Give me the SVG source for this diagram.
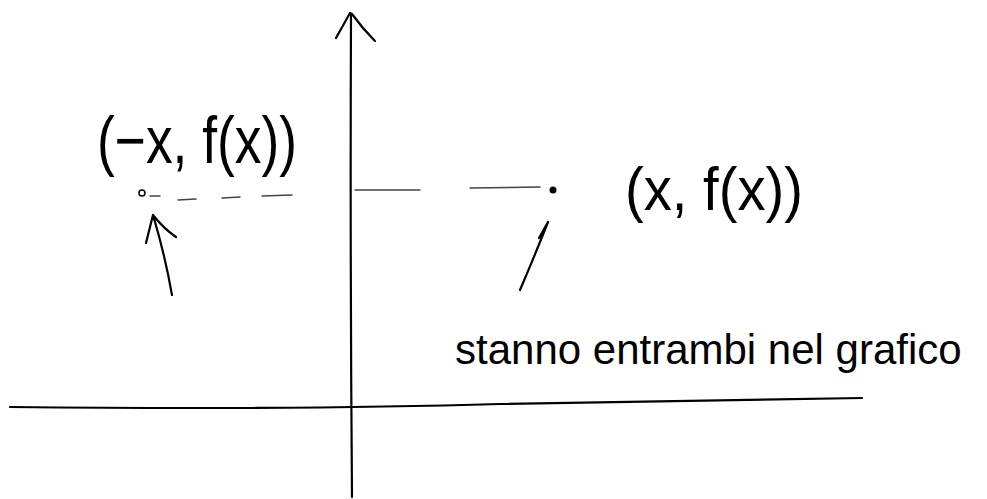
<svg xmlns="http://www.w3.org/2000/svg" width="987" height="499" viewBox="0 0 987 499">
<style>
.ink{fill:none;stroke:#000;stroke-width:2.2;stroke-linecap:round;stroke-linejoin:round}
.dash{fill:none;stroke:#444;stroke-width:1.5;stroke-linecap:round}
.hw{font-family:"Liberation Sans","DejaVu Sans",sans-serif;fill:#000}
</style>
<rect width="987" height="499" fill="#fff"/>
<g id="axes">
<path class="ink" d="M351 14 Q350 250 352 497"/>
<path class="ink" d="M336 38 L350 13 L352 14 Q362 28 375 41"/>
<path class="ink" d="M10 407 Q300 410 500 404 Q700 400 862 398"/>
</g>
<g id="dashes">
<path class="dash" d="M150 196 L160 196 M178 200 L196 199 M222 198 L240 197 M262 196 L292 195 M355 190 L420 190 M470 188 L540 187"/>
</g>
<g id="points">
<circle cx="142" cy="193" r="3" fill="none" stroke="#000" stroke-width="1.5"/>
<circle cx="553" cy="190" r="3.5" fill="#000"/>
</g>
<g id="arrows">
<path class="ink" d="M172 295 Q165 255 153 215 M153 215 L146 243 M153 215 Q163 228 176 237"/>
<path class="ink" d="M520 290 Q535 255 548 222 M548 222 L539 238"/>
</g>
<g id="labels">
<text class="hw" x="97" y="163" font-size="66" textLength="200" lengthAdjust="spacingAndGlyphs">(−x, f(x))</text>
<text class="hw" x="625" y="210" font-size="62" textLength="178" lengthAdjust="spacingAndGlyphs">(x, f(x))</text>
<text class="hw" x="455" y="364" font-size="42">stanno entrambi nel grafico</text>
</g>
</svg>
